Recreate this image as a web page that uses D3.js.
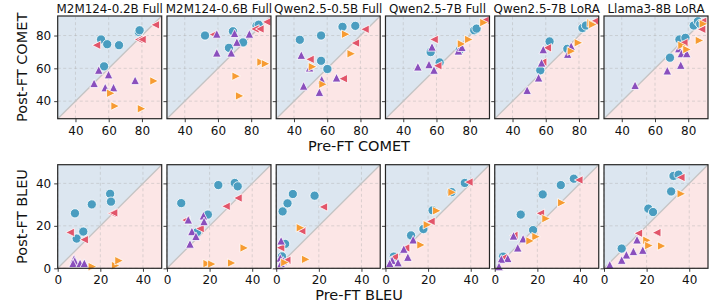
<!DOCTYPE html>
<html>
<head>
<meta charset="utf-8">
<script src="https://cdn.jsdelivr.net/npm/d3@7"></script>
<style>
  body { margin: 0; background: #fff; }
  svg { display: block; font-family: "DejaVu Sans", sans-serif; }
</style>
</head>
<body>
<svg id="chart" width="718" height="302"></svg>
<script>
// ---------- data ----------
const panelTitles = ["M2M124-0.2B Full", "M2M124-0.6B Full", "Qwen2.5-0.5B Full", "Qwen2.5-7B Full", "Qwen2.5-7B LoRA", "Llama3-8B LoRA"];

const cometTicks = [40, 60, 80];
const bleuTicks = [0, 20, 40];

// COMET: [pre, post] per panel
const cometBlue = [
  [[55.4,77.6],[59.1,74.7],[66.2,74.1],[57.2,61.2],[78.1,82.2],[78.6,83.2]],
  [[52.2,80],[69,82.6],[75.1,75.8],[66.6,72.5],[83.2,86],[84.5,86.6]],
  [[43.5,77.4],[56.3,80],[69.2,85.3],[76.9,85.9],[56.3,64.6],[60.1,59.6]],
  [[56.5,69.9],[61.9,63.6],[74,71.3],[82.7,83.2],[84.1,84.2]],
  [[62.3,76.4],[73,71.9],[56.7,58.8],[82.1,84.6],[84.2,86.1]],
  [[69,66.5],[74.7,77.6],[78.3,78.6],[83.3,86.1],[85.8,88.7],[87.2,87.1]]
];
const cometRed = [
  [[52.6,74.1],[78,77.6],[80,77.6],[88,86.5]],
  [[57.2,80.6],[82.2,84],[85.2,84],[89.3,88.3]],
  [[82.7,83.8],[76.9,75.4],[49.6,65.5],[69.6,53.7]],
  [[58.5,77.6],[60.7,61.6],[89.2,89.3]],
  [[60.9,72.5],[58.1,63.8],[89.4,88.7]],
  [[77.3,75.6],[88,83.8],[88.6,88.7]]
];
const cometPurple = [
  [[54,59],[59.9,56.2],[51.2,50.9],[57.9,48.3],[62.9,48.3],[75.9,52.7]],
  [[59.3,81],[70,81.4],[71.4,76],[78.9,81],[59.3,69.5],[68,69.5]],
  [[44.4,68.1],[49.4,60.4],[56.7,53.1],[65.6,54.3],[45.8,49.3],[55.3,45.5]],
  [[57.3,73.1],[48.8,61],[55.5,62.4],[58.5,59],[73.2,70.7],[75.3,72.9]],
  [[58.5,71.5],[57.5,63.4],[55.7,54.3],[48.8,46.7],[73.2,68.7],[75.3,73.5]],
  [[48,49.7],[67.4,58.6],[75.5,62],[74.3,72.1],[75.9,69.1],[79.1,69.1]]
];
const cometOrange = [
  [[61.3,44.8],[63.9,37],[79.8,35.4],[87.3,52.3]],
  [[86,63.8],[88.7,62.8],[71,55.2],[73.1,43.2]],
  [[71.2,80.8],[74.5,68.9],[51.2,61],[57.5,50.3]],
  [[75.1,74.9],[79.5,77.6],[88.6,87.9]],
  [[75.5,70.5],[79.7,75.6],[87.4,87.7],[88.4,86.7]],
  [[76.3,74],[79.3,71.5],[86.8,77],[89.2,87.1]]
];

// BLEU: [pre, post] per panel
const bleuBlue = [
  [[8.1,25.9],[16,30.1],[24.6,35.1],[25,31.4],[12,17.3],[8.9,14]],
  [[6.7,30.7],[24.1,39.2],[31.8,40.2],[33.2,38.6],[19.2,25.3],[14.2,17.1]],
  [[7.8,35],[18,34.2],[5.3,30.6],[3,26.8],[4.2,11.5],[2.7,5.6]],
  [[37.2,40.2],[31,35.9],[22.1,27.3],[17.8,18.5],[12,15.5],[3.9,5.5]],
  [[37.1,42.2],[31,39.2],[22.5,34.8],[12.2,25.3],[18,18],[3.9,5.5]],
  [[32.6,43.5],[35,44.1],[31.5,36.2],[20.8,28.1],[23,26.5],[8.3,9.3]]
];
const bleuRed = [
  [[5.8,16.9],[12.4,13.5],[25.4,25.9],[26.2,26.1]],
  [[8.8,22.7],[27.7,29.2],[33.3,33.1],[15.5,18.7]],
  [[22.1,28.9],[11.9,17.6],[2,9.7],[4.9,3.8]],
  [[39.1,40.6],[21.3,22.1],[9.4,9.6],[4.1,5.3]],
  [[39.4,41.6],[21.4,25.9],[8.9,15.5],[4.5,5.2]],
  [[36,42.8],[16.1,16.5],[24.7,16.8]]
];
const bleuPurple = [
  [[7.7,4.5],[8,3.5],[7.2,2.4],[10.5,2.4],[12.5,2.4]],
  [[10,22.9],[17.1,24.8],[17.4,22.1],[11.7,17.4],[13.6,15.1],[10.8,11.5]],
  [[2.3,13],[1.9,4.9],[3.3,3.5],[1.7,1.4],[2.3,2.4]],
  [[13,13.5],[8.6,9.1],[10.5,5.3],[3.1,3.8],[5.9,2.7],[2,2.4]],
  [[13.3,14],[10.8,9.7],[6.1,4.7],[3.1,4.4],[2,0.9],[8.8,15.3]],
  [[15.5,13.5],[10.5,6.4],[13.8,8],[18.2,8.6],[8.3,3.9],[2.7,1.7]]
];
const bleuOrange = [
  [[16.3,0.8],[27.2,1.3],[28.8,3.6]],
  [[18.9,2.2],[21.1,2],[30.4,2.5],[36.3,9.6]],
  [[11.4,19.1],[13.9,4.2],[4.1,2.7]],
  [[31.3,35.8],[24.1,27.1],[19.7,20.5],[16.7,11]],
  [[31.5,30.9],[24.1,23.4],[19.4,14.9],[16.6,12.9]],
  [[36.3,35.1],[20.2,13.2],[21.1,10.7],[27.1,10.5]]
];

// ---------- layout ----------
const svg = d3.select("#chart");
const panelW = 104, gapX = 5.26, left0 = 57.7;
const rows = [
  { top: 16, height: 102.7, domain: [29.3, 91.9], ticks: cometTicks,
    series: [cometBlue, cometRed, cometPurple, cometOrange],
    ylabel: "Post-FT COMET", xlabel: "Pre-FT COMET", xlabelY: 150.5, titles: true },
  { top: 164.7, height: 103.6, domain: [0, 48.8], ticks: bleuTicks,
    series: [bleuBlue, bleuRed, bleuPurple, bleuOrange],
    ylabel: "Post-FT BLEU", xlabel: "Pre-FT BLEU", xlabelY: 299.5, titles: false }
];

const colors = ["#4a9dc0", "#e2556a", "#8a4fbd", "#f79b32"];

// marker shapes (matplotlib style: triangle width=height=size)
const triUp = { draw(ctx, size) { const h = Math.sqrt(size) / 2; ctx.moveTo(0, -h); ctx.lineTo(h, h); ctx.lineTo(-h, h); ctx.closePath(); } };
const triLeft = { draw(ctx, size) { const h = Math.sqrt(size) / 2; ctx.moveTo(-h, 0); ctx.lineTo(h, -h); ctx.lineTo(h, h); ctx.closePath(); } };
const triRight = { draw(ctx, size) { const h = Math.sqrt(size) / 2; ctx.moveTo(h, 0); ctx.lineTo(-h, h); ctx.lineTo(-h, -h); ctx.closePath(); } };
const shapes = [
  d3.symbol().type(d3.symbolCircle).size(Math.PI * 4.6 * 4.6),
  d3.symbol().type(triLeft).size(8.6 * 8.6),
  d3.symbol().type(triUp).size(8.6 * 8.6),
  d3.symbol().type(triRight).size(8.6 * 8.6)
];

rows.forEach((row, ri) => {
  panelTitles.forEach((title, pi) => {
    const x0 = left0 + pi * (panelW + gapX);
    const x = d3.scaleLinear().domain(row.domain).range([x0, x0 + panelW]);
    const y = d3.scaleLinear().domain(row.domain).range([row.top + row.height, row.top]);
    const g = svg.append("g");
    const [d0, d1] = row.domain;

    // backgrounds
    g.append("path")
      .attr("d", `M${x(d0)},${y(d0)}L${x(d0)},${y(d1)}L${x(d1)},${y(d1)}Z`)
      .attr("fill", "#dce6f0");
    g.append("path")
      .attr("d", `M${x(d0)},${y(d0)}L${x(d1)},${y(d0)}L${x(d1)},${y(d1)}Z`)
      .attr("fill", "#fce6e6");

    // grid
    row.ticks.forEach(t => {
      g.append("line").attr("x1", x(t)).attr("x2", x(t)).attr("y1", y(d0)).attr("y2", y(d1))
        .attr("stroke", "#b0b0b0").attr("stroke-opacity", 0.55).attr("stroke-width", 0.8).attr("stroke-dasharray", "3,2.5");
      g.append("line").attr("y1", y(t)).attr("y2", y(t)).attr("x1", x(d0)).attr("x2", x(d1))
        .attr("stroke", "#b0b0b0").attr("stroke-opacity", 0.55).attr("stroke-width", 0.8).attr("stroke-dasharray", "3,2.5");
    });

    // diagonal
    g.append("line").attr("x1", x(d0)).attr("y1", y(d0)).attr("x2", x(d1)).attr("y2", y(d1))
      .attr("stroke", "#c4c4c4").attr("stroke-width", 1.3);

    // points
    row.series.forEach((ser, si) => {
      g.selectAll(null).data(ser[pi]).enter().append("path")
        .attr("d", shapes[si])
        .attr("transform", d => `translate(${x(d[0])},${y(d[1])})`)
        .attr("fill", colors[si])
        .attr("stroke", "#fff").attr("stroke-width", 0.8);
    });

    // frame
    g.append("rect").attr("x", x0).attr("y", row.top).attr("width", panelW).attr("height", row.height)
      .attr("fill", "none").attr("stroke", "#262626").attr("stroke-width", 1.2);

    // axes
    const xa = g.append("g").attr("transform", `translate(0,${row.top + row.height})`)
      .call(d3.axisBottom(x).tickValues(row.ticks).tickSize(3.5).tickPadding(4));
    const ya = g.append("g").attr("transform", `translate(${x0},0)`)
      .call(d3.axisLeft(y).tickValues(row.ticks).tickSize(3.5).tickPadding(3)
        .tickFormat(pi === 0 ? d3.format("d") : () => ""));
    [xa, ya].forEach(a => {
      a.select(".domain").remove();
      a.selectAll("line").attr("stroke", "#262626").attr("stroke-width", 0.9);
      a.selectAll("text").attr("font-size", 12).attr("fill", "#111").attr("font-family", "DejaVu Sans, sans-serif");
    });

    if (row.titles) {
      svg.append("text").attr("x", x0 + panelW / 2).attr("y", row.top - 2.8)
        .attr("text-anchor", "middle").attr("font-size", 11.9).attr("fill", "#111").text(title);
    }
  });

  // row labels
  svg.append("text")
    .attr("transform", `translate(27,${row.top + row.height / 2}) rotate(-90)`)
    .attr("text-anchor", "middle").attr("font-size", 14.5).attr("fill", "#111").text(row.ylabel);
  svg.append("text").attr("x", 359).attr("y", row.xlabelY)
    .attr("text-anchor", "middle").attr("font-size", 14.5).attr("fill", "#111").text(row.xlabel);
});
</script>
</body>
</html>
